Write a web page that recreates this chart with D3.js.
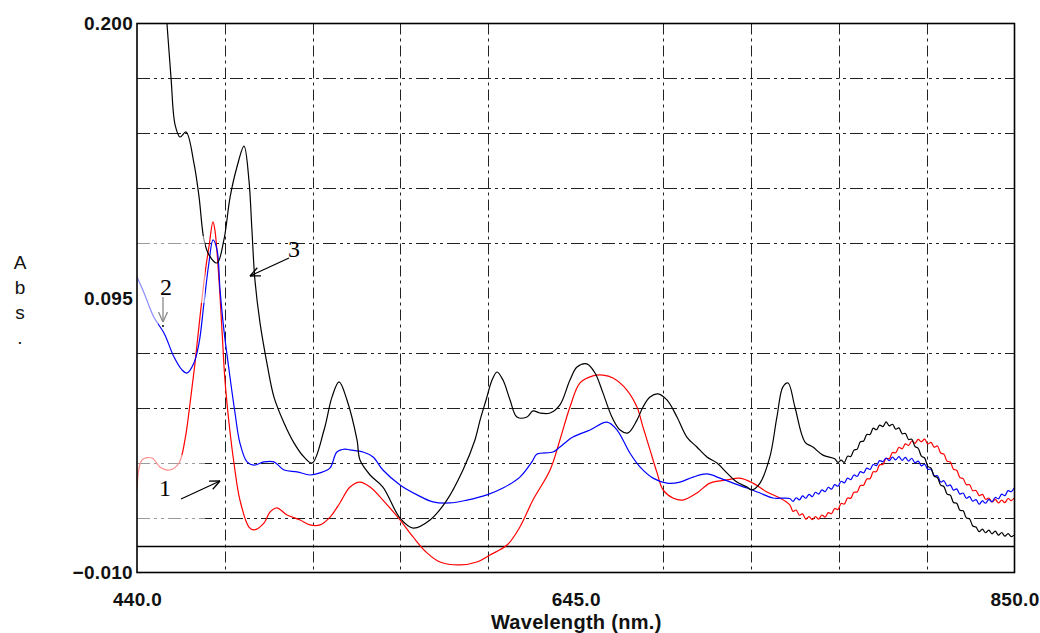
<!DOCTYPE html>
<html>
<head>
<meta charset="utf-8">
<script src="https://cdn.jsdelivr.net/npm/d3@7"></script>
<style>
  html, body { margin: 0; padding: 0; background: #fff; }
  svg { display: block; }
</style>
</head>
<body>
<svg id="chart" width="1040" height="633"></svg>
<script>
// Absorbance spectra, wavelength in nm vs. absorbance
const wavelengthTicks = [440.0, 645.0, 850.0];
const absTicks = [0.200, 0.095, -0.010];
const wavelengthGrid = [481, 522, 563, 604, 686, 727, 768, 809];
const absGrid = [0.179, 0.158, 0.137, 0.116, 0.074, 0.053, 0.032, 0.011];

// Spectrum 1 (red)
const spectrum1 = [
  [440.0, 0.0216], [442.3, 0.0330], [447.0, 0.0338], [450.7, 0.0304], [455.4, 0.0292],
  [459.6, 0.0319], [462.4, 0.0407], [464.8, 0.0548], [467.1, 0.0701], [469.4, 0.0876],
  [471.8, 0.1046], [473.6, 0.1145], [475.5, 0.1241], [476.4, 0.1210], [478.3, 0.1019],
  [479.7, 0.0828], [481.1, 0.0636], [483.0, 0.0472], [485.3, 0.0319], [488.1, 0.0177],
  [492.3, 0.0074], [494.7, 0.0063], [499.3, 0.0089], [502.1, 0.0131], [505.4, 0.0147],
  [510.1, 0.0120], [516.2, 0.0101], [520.8, 0.0082], [525.5, 0.0082], [530.2, 0.0112],
  [534.8, 0.0166], [539.5, 0.0227], [544.2, 0.0246], [548.9, 0.0227], [554.9, 0.0177],
  [562.9, 0.0101], [569.0, 0.0036], [575.5, -0.0025], [581.6, -0.0060], [590.9, -0.0071],
  [598.8, -0.0060], [604.9, -0.0033], [612.9, 0.0005], [618.9, 0.0074], [625.0, 0.0177],
  [633.0, 0.0292], [637.6, 0.0407], [642.3, 0.0533], [647.0, 0.0625], [653.0, 0.0652],
  [657.7, 0.0655], [662.4, 0.0644], [668.9, 0.0598], [673.6, 0.0533], [676.4, 0.0457],
  [679.7, 0.0369], [683.0, 0.0281], [685.8, 0.0216], [690.4, 0.0185], [695.1, 0.0177],
  [701.6, 0.0204], [707.7, 0.0242], [715.6, 0.0254], [721.7, 0.0261], [727.8, 0.0242],
  [734.3, 0.0208], [740.4, 0.0185],
  [745.0, 0.0159], [746.5, 0.0134], [748.0, 0.0139], [749.5, 0.0119], [751.0, 0.0124],
  [752.5, 0.0104], [754.0, 0.0114], [755.5, 0.0102], [757.0, 0.0114], [758.5, 0.0104],
  [760.0, 0.0120], [761.5, 0.0112], [763.0, 0.0129], [764.5, 0.0125], [766.0, 0.0145],
  [767.5, 0.0141], [769.0, 0.0164], [770.5, 0.0162], [772.0, 0.0185], [773.5, 0.0184],
  [775.0, 0.0207], [776.5, 0.0208], [778.0, 0.0233], [779.5, 0.0234], [781.0, 0.0258],
  [782.5, 0.0259], [784.0, 0.0285], [785.5, 0.0286], [787.0, 0.0312], [788.5, 0.0313],
  [790.0, 0.0336], [791.5, 0.0336], [793.0, 0.0359], [794.5, 0.0358], [796.0, 0.0379],
  [797.5, 0.0373], [799.0, 0.0392], [800.5, 0.0386], [802.0, 0.0403], [803.5, 0.0394],
  [805.0, 0.0409], [806.5, 0.0400], [808.0, 0.0410], [809.5, 0.0392], [811.0, 0.0398],
  [812.5, 0.0379], [814.0, 0.0384], [815.5, 0.0357], [817.0, 0.0353], [818.5, 0.0326],
  [820.0, 0.0323], [821.5, 0.0295], [823.0, 0.0291], [824.5, 0.0263], [826.0, 0.0259],
  [827.5, 0.0236], [829.0, 0.0236], [830.5, 0.0213], [832.0, 0.0214], [833.5, 0.0194],
  [835.0, 0.0199], [836.5, 0.0180], [838.0, 0.0185], [839.5, 0.0170], [841.0, 0.0180],
  [842.5, 0.0166], [844.0, 0.0177], [845.5, 0.0167], [847.0, 0.0183], [848.5, 0.0175],
  [849.8, 0.0185]
];

// Spectrum 2 (blue)
const spectrum2 = [
  [440.0, 0.1030], [443.3, 0.0969], [447.9, 0.0876], [452.6, 0.0816], [457.3, 0.0724],
  [461.0, 0.0675], [463.4, 0.0663], [466.6, 0.0701], [469.0, 0.0778], [471.3, 0.0931],
  [473.6, 0.1084], [475.5, 0.1172], [477.4, 0.1134], [478.8, 0.0981], [480.6, 0.0828],
  [483.0, 0.0675], [485.8, 0.0510], [488.1, 0.0395], [491.4, 0.0323], [494.7, 0.0311],
  [499.3, 0.0323], [504.0, 0.0323], [508.7, 0.0292], [514.8, 0.0285], [520.8, 0.0273],
  [525.5, 0.0281], [530.2, 0.0300], [533.4, 0.0361], [537.2, 0.0372], [539.5, 0.0369],
  [545.6, 0.0361], [550.3, 0.0342], [554.9, 0.0292], [562.9, 0.0235], [570.9, 0.0197],
  [578.3, 0.0170], [586.2, 0.0166], [594.2, 0.0177], [603.5, 0.0197], [611.0, 0.0223],
  [618.9, 0.0265], [624.5, 0.0323], [626.9, 0.0353], [634.4, 0.0361], [637.6, 0.0380],
  [643.7, 0.0418], [651.7, 0.0445], [659.6, 0.0475], [664.3, 0.0445], [670.3, 0.0357],
  [675.0, 0.0304], [681.1, 0.0261], [687.6, 0.0242], [693.7, 0.0246], [699.8, 0.0265],
  [706.3, 0.0277], [712.4, 0.0261], [718.5, 0.0242], [725.0, 0.0223], [731.1, 0.0204],
  [737.1, 0.0185],
  [745.0, 0.0183], [746.5, 0.0172], [748.0, 0.0186], [749.5, 0.0178], [751.0, 0.0193],
  [752.5, 0.0184], [754.0, 0.0199], [755.5, 0.0190], [757.0, 0.0207], [758.5, 0.0200],
  [760.0, 0.0216], [761.5, 0.0209], [763.0, 0.0226], [764.5, 0.0219], [766.0, 0.0236],
  [767.5, 0.0230], [769.0, 0.0249], [770.5, 0.0243], [772.0, 0.0261], [773.5, 0.0255],
  [775.0, 0.0273], [776.5, 0.0268], [778.0, 0.0286], [779.5, 0.0281], [781.0, 0.0299],
  [782.5, 0.0294], [784.0, 0.0313], [785.5, 0.0309], [787.0, 0.0328], [788.5, 0.0324],
  [790.0, 0.0338], [791.5, 0.0328], [793.0, 0.0341], [794.5, 0.0331], [796.0, 0.0343],
  [797.5, 0.0329], [799.0, 0.0340], [800.5, 0.0326], [802.0, 0.0337], [803.5, 0.0320],
  [805.0, 0.0326], [806.5, 0.0308], [808.0, 0.0314], [809.5, 0.0295], [811.0, 0.0295],
  [812.5, 0.0270], [814.0, 0.0270], [815.5, 0.0246], [817.0, 0.0251], [818.5, 0.0231],
  [820.0, 0.0235], [821.5, 0.0215], [823.0, 0.0220], [824.5, 0.0200], [826.0, 0.0204],
  [827.5, 0.0184], [829.0, 0.0190], [830.5, 0.0173], [832.0, 0.0179], [833.5, 0.0161],
  [835.0, 0.0174], [836.5, 0.0165], [838.0, 0.0180], [839.5, 0.0170], [841.0, 0.0187],
  [842.5, 0.0182], [844.0, 0.0200], [845.5, 0.0194], [847.0, 0.0213], [848.5, 0.0209],
  [849.8, 0.0223]
];

// Spectrum 3 (black)
const spectrum3 = [
  [452.5, 0.2150], [454.0, 0.2000], [455.9, 0.1792], [457.8, 0.1612], [460.1, 0.1566],
  [462.9, 0.1585], [466.6, 0.1466], [469.0, 0.1336], [471.3, 0.1172], [473.6, 0.1115],
  [477.4, 0.1084], [480.6, 0.1172], [483.5, 0.1336], [486.7, 0.1451], [490.0, 0.1531],
  [492.3, 0.1401], [493.7, 0.1210], [495.1, 0.1019], [497.5, 0.0854], [500.7, 0.0701],
  [504.0, 0.0571], [508.7, 0.0472], [513.4, 0.0395], [518.0, 0.0342], [521.8, 0.0319],
  [527.4, 0.0445], [531.1, 0.0571], [534.4, 0.0629], [538.1, 0.0560], [542.8, 0.0407],
  [544.2, 0.0330], [548.9, 0.0273], [554.9, 0.0227], [562.9, 0.0108], [569.0, 0.0070],
  [576.9, 0.0101], [584.8, 0.0177], [592.3, 0.0292], [597.9, 0.0407], [600.3, 0.0483],
  [603.1, 0.0560], [605.9, 0.0636], [608.2, 0.0667], [611.0, 0.0636], [614.3, 0.0560],
  [617.5, 0.0495], [622.2, 0.0495], [625.0, 0.0518], [628.3, 0.0510], [633.0, 0.0510],
  [637.6, 0.0541], [642.3, 0.0636], [645.6, 0.0686], [650.2, 0.0698], [654.0, 0.0663],
  [657.7, 0.0587], [661.9, 0.0495], [665.7, 0.0445], [669.4, 0.0434], [673.6, 0.0483],
  [676.4, 0.0533], [679.7, 0.0571], [683.4, 0.0583], [687.6, 0.0560], [692.3, 0.0495],
  [696.9, 0.0418], [701.6, 0.0380], [706.3, 0.0342], [711.0, 0.0319], [715.6, 0.0281],
  [720.3, 0.0246], [725.0, 0.0227], [727.3, 0.0216], [731.1, 0.0242], [735.7, 0.0342],
  [739.0, 0.0495], [741.8, 0.0610], [744.2, 0.0625], [747.4, 0.0533], [752.1, 0.0399],
  [755.8, 0.0380], [760.5, 0.0349],
  [766.0, 0.0335], [767.5, 0.0321], [769.0, 0.0330], [770.5, 0.0321], [772.0, 0.0345],
  [773.5, 0.0344], [775.0, 0.0368], [776.5, 0.0372], [778.0, 0.0400], [779.5, 0.0403],
  [781.0, 0.0428], [782.5, 0.0428], [784.0, 0.0452], [785.5, 0.0446], [787.0, 0.0464],
  [788.5, 0.0458], [790.0, 0.0476], [791.5, 0.0461], [793.0, 0.0467], [794.5, 0.0448],
  [796.0, 0.0453], [797.5, 0.0431], [799.0, 0.0432], [800.5, 0.0409], [802.0, 0.0410],
  [803.5, 0.0382], [805.0, 0.0375], [806.5, 0.0345], [808.0, 0.0338], [809.5, 0.0306],
  [811.0, 0.0299], [812.5, 0.0268], [814.0, 0.0263], [815.5, 0.0234], [817.0, 0.0229],
  [818.5, 0.0200], [820.0, 0.0196], [821.5, 0.0168], [823.0, 0.0165], [824.5, 0.0138],
  [826.0, 0.0136], [827.5, 0.0109], [829.0, 0.0105], [830.5, 0.0078], [832.0, 0.0074],
  [833.5, 0.0056], [835.0, 0.0066], [836.5, 0.0052], [838.0, 0.0062], [839.5, 0.0048],
  [841.0, 0.0058], [842.5, 0.0043], [844.0, 0.0053], [845.5, 0.0039], [847.0, 0.0049],
  [848.5, 0.0037], [849.8, 0.0043]
];

const series = [
  { name: "1", data: spectrum1, color: "#ff0000" },
  { name: "2", data: spectrum2, color: "#0000ff" },
  { name: "3", data: spectrum3, color: "#000000" }
];

const svg = d3.select("#chart");
const plot = { left: 137, right: 1014.5, top: 23.5, bottom: 572.5 };

const x = d3.scaleLinear().domain([440, 850]).range([plot.left, plot.right]);
const y = d3.scaleLinear().domain([-0.010, 0.200]).range([plot.bottom, plot.top]);

svg.append("defs").append("clipPath").attr("id", "plotClip")
  .append("rect")
  .attr("x", plot.left).attr("y", plot.top)
  .attr("width", plot.right - plot.left).attr("height", plot.bottom - plot.top);

// grid
const grid = svg.append("g").attr("stroke", "#222").attr("stroke-width", 1).attr("fill", "none");
grid.selectAll("line.v").data(wavelengthGrid).join("line")
  .attr("class", "v")
  .attr("x1", d => Math.round(x(d)) + 0.5).attr("x2", d => Math.round(x(d)) + 0.5)
  .attr("y1", plot.top).attr("y2", plot.bottom)
  .attr("stroke-dasharray", "11 4 3 4");
grid.selectAll("line.h").data(absGrid).join("line")
  .attr("class", "h")
  .attr("x1", plot.left).attr("x2", plot.right)
  .attr("y1", d => Math.round(y(d)) + 0.5).attr("y2", d => Math.round(y(d)) + 0.5)
  .attr("stroke-dasharray", "13 4 3 4 3 4");

// zero baseline
svg.append("line")
  .attr("x1", plot.left).attr("x2", plot.right)
  .attr("y1", Math.round(y(0)) + 0.5).attr("y2", Math.round(y(0)) + 0.5)
  .attr("stroke", "#000").attr("stroke-width", 1.5);

// spectra
const line = d3.line()
  .x(d => x(d[0]))
  .y(d => y(d[1]))
  .curve(d3.curveCatmullRom.alpha(0.5));

svg.append("g").attr("clip-path", "url(#plotClip)")
  .selectAll("path").data(series).join("path")
  .attr("d", d => line(d.data))
  .attr("fill", "none")
  .attr("stroke", d => d.color)
  .attr("stroke-width", 1.2)
  .attr("stroke-linejoin", "round");

// faded patches near the left edge
const fade = svg.append("g").attr("fill", "#fff").attr("fill-opacity", 0.55);
[[137, 236, 68, 67], [137, 303, 21, 26], [137, 455, 45, 35], [182, 455, 23, 12], [137, 512, 68, 12]]
  .forEach(r => fade.append("rect").attr("x", r[0]).attr("y", r[1]).attr("width", r[2]).attr("height", r[3]));

// frame
svg.append("rect")
  .attr("x", plot.left).attr("y", plot.top)
  .attr("width", plot.right - plot.left).attr("height", plot.bottom - plot.top)
  .attr("fill", "none").attr("stroke", "#000").attr("stroke-width", 1.6);

// axes labels
const axisFont = "'Liberation Sans', Arial, sans-serif";
const yAxis = d3.axisLeft(y).tickValues(absTicks).tickSize(0).tickPadding(4)
  .tickFormat(d3.format(".3f"));
svg.append("g").attr("transform", `translate(${plot.left},0)`).call(yAxis)
  .call(g => g.select(".domain").remove())
  .call(g => g.selectAll("text")
    .attr("font-family", axisFont).attr("font-size", 19).attr("font-weight", "bold")
    .attr("letter-spacing", 0.3).attr("fill", "#111"));

const xAxis = d3.axisBottom(x).tickValues(wavelengthTicks).tickSize(0).tickPadding(0)
  .tickFormat(d3.format(".1f"));
svg.append("g").attr("transform", `translate(0,${plot.bottom + 20})`).call(xAxis)
  .call(g => g.select(".domain").remove())
  .call(g => g.selectAll("text")
    .attr("font-family", axisFont).attr("font-size", 19).attr("font-weight", "bold")
    .attr("letter-spacing", 0.3).attr("fill", "#111"));

svg.append("text")
  .attr("x", (plot.left + plot.right) / 2 + 0.5).attr("y", 629)
  .attr("text-anchor", "middle")
  .attr("font-family", axisFont).attr("font-size", 20).attr("font-weight", "bold")
  .attr("letter-spacing", 0.3).attr("fill", "#111")
  .text("Wavelength (nm.)");

const yTitle = svg.append("text")
  .attr("font-family", axisFont).attr("font-size", 19).attr("fill", "#111")
  .attr("text-anchor", "middle");
["A", "b", "s", "."].forEach((c, i) => {
  yTitle.append("tspan").attr("x", 20).attr("y", 269 + i * 25).text(c);
});

// curve annotations
const serif = "'Liberation Serif', 'Times New Roman', serif";
function arrow(x1, y1, x2, y2, color) {
  const g = svg.append("g").attr("stroke", color).attr("stroke-width", 1.3).attr("fill", "none");
  g.append("line").attr("x1", x1).attr("y1", y1).attr("x2", x2).attr("y2", y2);
  const a = Math.atan2(y2 - y1, x2 - x1);
  const len = 11, spread = 0.42;
  [a + Math.PI - spread, a + Math.PI + spread].forEach(t => {
    g.append("line").attr("x1", x2).attr("y1", y2)
      .attr("x2", x2 + len * Math.cos(t)).attr("y2", y2 + len * Math.sin(t));
  });
}
function label(tx, ty, s) {
  svg.append("text").attr("x", tx).attr("y", ty)
    .attr("font-family", serif).attr("font-size", 24).attr("fill", "#000")
    .attr("text-anchor", "middle").text(s);
}

label(294, 257, "3");
arrow(289, 258, 250, 276, "#000");

label(165, 496, "1");
arrow(181, 499, 220, 481, "#000");

label(166, 295, "2");
arrow(163, 297, 163, 322, "#888");
svg.append("circle").attr("cx", 163).attr("cy", 326).attr("r", 1).attr("fill", "#000");
</script>
</body>
</html>
